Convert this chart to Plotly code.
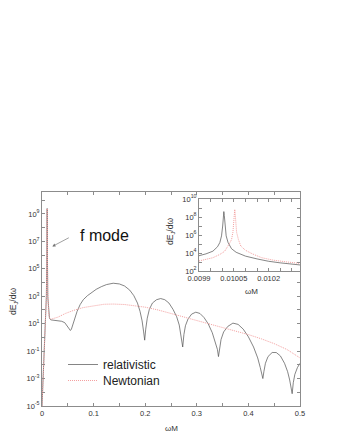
import plotly.graph_objects as go

# main panel: energy spectrum dE_J/dw vs wM
rel_w = [0.0, 0.002, 0.0045, 0.0065, 0.0085, 0.0095, 0.0100, 0.0105, 0.0112, 0.0125,
         0.0145, 0.017, 0.022, 0.031, 0.038, 0.044, 0.049, 0.053, 0.055, 0.057,
         0.060, 0.063, 0.068, 0.074, 0.080, 0.088, 0.096, 0.105, 0.115, 0.125,
         0.138, 0.150, 0.160, 0.170, 0.178, 0.185, 0.190, 0.194, 0.197, 0.199,
         0.201, 0.204, 0.208, 0.214, 0.222, 0.230, 0.238, 0.246, 0.254, 0.261,
         0.266, 0.270, 0.2727, 0.275, 0.278, 0.283, 0.290, 0.298, 0.306, 0.314,
         0.322, 0.330, 0.336, 0.340, 0.342, 0.344, 0.347, 0.352, 0.360, 0.370,
         0.380, 0.390, 0.400, 0.410, 0.418, 0.423, 0.426, 0.428, 0.430, 0.433,
         0.438, 0.446, 0.454, 0.462, 0.470, 0.476, 0.480, 0.483, 0.4848, 0.487,
         0.490, 0.495, 0.500]
rel_e = [1e-5, 1e-3, 1.6e-1, 1e1, 1e3, 3.2e6, 2.5e9, 1e6, 1e3, 1e2,
         2.5e1, 1.9e1, 1.8e1, 1.7e1, 1.5e1, 1.2e1, 7.1, 4.0, 3.2, 4.0,
         8.9, 1.9e1, 7.9e1, 2.5e2, 5.6e2, 1.1e3, 1.8e3, 3.2e3, 5.0e3, 7.1e3,
         8.9e3, 7.9e3, 5.6e3, 2.8e3, 1.1e3, 3.2e2, 7.9e1, 1.6e1, 2.5, 6.3e-1,
         4.0, 2.5e1, 1.1e2, 3.2e2, 5.6e2, 6.8e2, 5.6e2, 3.2e2, 1.1e2, 3.2e1,
         7.9, 1.3, 2.0e-1, 1.6, 7.1, 2.2e1, 5.0e1, 6.9e1, 5.6e1, 2.8e1,
         1.0e1, 2.2, 5.0e-1, 1.3e-1, 4.0e-2, 1.6e-1, 7.1e-1, 2.5, 6.3, 1.1e1,
         8.9, 4.0, 1.1, 2.0e-1, 3.2e-2, 6.3e-3, 2.0e-3, 1.0e-3, 3.2e-3, 1.3e-2,
         4.0e-2, 7.9e-2, 7.9e-2, 4.5e-2, 1.3e-2, 3.2e-3, 7.9e-4, 2.5e-4, 7.9e-5, 5.0e-4,
         2.0e-3, 6.3e-3, 1.3e-2]

new_w = [0.0, 0.002, 0.0045, 0.0065, 0.0085, 0.0095, 0.01005, 0.0106, 0.0112, 0.0118,
         0.0125, 0.0140, 0.0168, 0.022, 0.031, 0.045, 0.060, 0.080, 0.100, 0.120,
         0.138, 0.160, 0.180, 0.200, 0.225, 0.250, 0.275, 0.300, 0.325, 0.350,
         0.375, 0.400, 0.425, 0.450, 0.475, 0.500]
new_e = [1e-5, 1e-3, 1.6e-1, 1e1, 1e3, 3.2e6, 2.5e9, 1e6, 3e3, 1.5e2,
         8e1, 3e1, 2.1e1, 2.4e1, 3.0e1, 5.5e1, 9e1, 1.5e2, 2.1e2, 2.6e2,
         2.7e2, 2.5e2, 2.0e2, 1.6e2, 1.0e2, 5.6e1, 3.2e1, 1.8e1, 1.0e1, 5.6,
         3.0, 1.6, 7.9e-1, 3.5e-1, 1.3e-1, 3.2e-2]

# inset: zoom on the f-mode peak
ins_rel_w = [0.00990, 0.00993, 0.00996, 0.00998, 0.00999, 0.009997, 0.010002, 0.010005,
             0.010007, 0.010009, 0.010012, 0.010017, 0.010025, 0.01004, 0.01006, 0.01010,
             0.01015, 0.01020, 0.01025, 0.01030, 0.010335]
ins_rel_e = [5.0e3, 8.0e3, 1.6e4, 5.0e4, 1.5e5, 8.0e5, 1.0e7, 1.5e8,
             4.0e8, 1.5e8, 1.0e7, 8.0e5, 1.5e5, 3.0e4, 1.2e4, 4.5e3,
             2.2e3, 1.2e3, 8.0e2, 5.5e2, 4.7e2]
ins_new_w = [0.00990, 0.00993, 0.00996, 0.00999, 0.01001, 0.01003, 0.01004, 0.010046,
             0.01005, 0.010052, 0.010054, 0.010056, 0.010058, 0.010062, 0.01007, 0.01008,
             0.0101, 0.01013, 0.01017, 0.01022, 0.01028, 0.010335]
ins_new_e = [1.3e3, 2.0e3, 3.0e3, 7.0e3, 1.5e4, 1.0e5, 3.0e5, 2.0e6,
             3.0e7, 2.0e8, 7.0e8, 2.0e8, 3.0e7, 2.0e6, 3.0e5, 6.0e4,
             2.0e4, 8.0e3, 3.0e3, 1.6e3, 1.0e3, 7.0e2]

main_xticks = [0, 0.05, 0.1, 0.15, 0.2, 0.25, 0.3, 0.35, 0.4, 0.45, 0.5]
main_xlabels = ["0", "", "0.1", "", "0.2", "", "0.3", "", "0.4", "", "0.5"]
main_yexp = list(range(-5, 11))
ins_xticks = [0.0099, 0.00995, 0.01, 0.01005, 0.0101, 0.01015, 0.0102, 0.01025, 0.0103]
ins_xlabels = ["0.0099", "", "", "0.01005", "", "", "0.0102", "", ""]
ins_yexp = list(range(2, 11))


def pow_labels(exps, step, first):
    return ["10<sup>%d</sup>" % e if (e - first) % step == 0 else "" for e in exps]


BLACK = "#505050"
RED = "#f4a0a0"
FRAME = "#8c8c8c"
FONT = "Liberation Sans"
REL_LINE = dict(color=BLACK, width=0.7)
NEW_LINE = dict(color=RED, width=1, dash="1px,1px")

fig = go.Figure()
fig.add_trace(go.Scatter(x=rel_w, y=rel_e, mode="lines", name="relativistic",
                         line=REL_LINE, legend="legend"))
fig.add_trace(go.Scatter(x=new_w, y=new_e, mode="lines", name="Newtonian",
                         line=NEW_LINE, legend="legend2"))
fig.add_trace(go.Scatter(x=ins_rel_w, y=ins_rel_e, mode="lines", showlegend=False,
                         xaxis="x2", yaxis="y2", line=REL_LINE))
fig.add_trace(go.Scatter(x=ins_new_w, y=ins_new_e, mode="lines", showlegend=False,
                         xaxis="x2", yaxis="y2", line=NEW_LINE))

axis_common = dict(showline=True, linecolor=FRAME, linewidth=1, mirror="ticks",
                   ticks="inside", ticklen=3, tickcolor=FRAME, showgrid=False,
                   zeroline=False, automargin=False,
                   tickfont=dict(size=7.5, color="#333", family=FONT))

W, H = 342, 443
legend_common = dict(xanchor="left", yanchor="top", bgcolor="rgba(0,0,0,0)",
                     font=dict(size=12, family=FONT, color="#222"), itemwidth=30)
fig.update_layout(
    width=W, height=H,
    margin=dict(l=0, r=0, t=0, b=0, autoexpand=False),
    paper_bgcolor="white", plot_bgcolor="white",
    font=dict(family=FONT, color="#333"),
    xaxis=dict(domain=[42 / W, 300 / W], range=[0, 0.5], tickvals=main_xticks,
               ticktext=main_xlabels, **axis_common),
    yaxis=dict(domain=[(H - 406) / H, (H - 192) / H], type="log", range=[-5, 10.6],
               tickvals=[10.0 ** e for e in main_yexp],
               ticktext=pow_labels(main_yexp, 2, -5), **axis_common),
    xaxis2=dict(domain=[199 / W, 300 / W], range=[0.0099, 0.010335], anchor="y2",
                tickvals=ins_xticks, ticktext=ins_xlabels, **axis_common),
    yaxis2=dict(domain=[(H - 271) / H, (H - 199) / H], type="log", range=[2, 10],
                anchor="x2", tickvals=[10.0 ** e for e in ins_yexp],
                ticktext=pow_labels(ins_yexp, 2, 2), **axis_common),
    legend=dict(x=63 / W, y=(H - 350) / H, **legend_common),
    legend2=dict(x=63 / W, y=(H - 366) / H, **legend_common),
    showlegend=True,
)


def label(text, px, py, size, angle=0, color="#333"):
    return dict(text=text, x=px / W, y=(H - py) / H, xref="paper", yref="paper",
                xanchor="center", yanchor="middle", showarrow=False,
                textangle=angle, font=dict(size=size, color=color))


annotations = [
    label("ωM", 171, 428, 8),
    label("ωM", 251, 291, 8),
    label("dE<sub>J</sub>/dω", 13, 302, 8.5, angle=-90),
    label("dE<sub>J</sub>/dω", 170, 232, 8.5, angle=-90),
    label("f mode", 104, 235, 16, color="#111"),
    dict(text="", x=0.02, y=6.63, xref="x", yref="y", showarrow=True,
         ax=18, ay=-9.5, axref="pixel", arrowhead=2, arrowsize=0.9, arrowwidth=0.7,
         arrowcolor="#777"),
]
fig.update_layout(annotations=annotations)

# drop the default 8px body margin so the figure sits at the page origin
fig.write_html("out.html", config={"displayModeBar": False},
               post_script="document.body.style.margin='0';")
